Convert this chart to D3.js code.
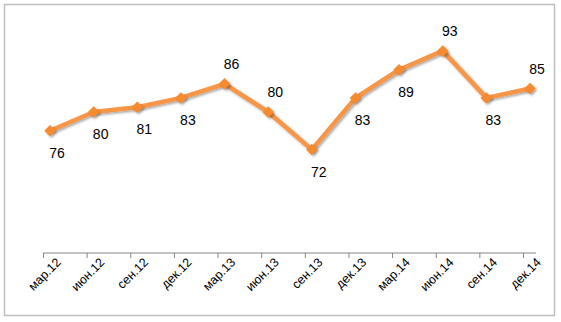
<!DOCTYPE html>
<html><head><meta charset="utf-8">
<script src="https://cdn.jsdelivr.net/npm/d3@7/dist/d3.min.js"></script>
<style>
body{margin:0;background:#fff;}
svg{display:block;font-family:"Liberation Sans",Arial,sans-serif;}
</style></head>
<body><svg id="c" width="561" height="322"></svg>
<script>
const categories = ["мар.12","июн.12","сен.12","дек.12","мар.13","июн.13","сен.13","дек.13","мар.14","июн.14","сен.14","дек.14"];
const values = [76, 80, 81, 83, 86, 80, 72, 83, 89, 93, 83, 85];
const labelPlacement = ["below","below","below","below","above","above","below","below","below","above","below","above"];
const yDomain = [50, 100];

const svg = d3.select("#c");
svg.append("rect").attr("x",4.5).attr("y",4.5).attr("width",550).attr("height",311)
  .attr("fill","#fff").attr("stroke","#bfbfbf").attr("stroke-width",1.5);

const defs = svg.append("defs");
const f = defs.append("filter").attr("id","sh").attr("x","-50%").attr("y","-50%").attr("width","200%").attr("height","200%");
f.append("feDropShadow").attr("dx",1.5).attr("dy",1.5).attr("stdDeviation",1.2).attr("flood-color","#000").attr("flood-opacity",0.35);

const x = d3.scalePoint().domain(categories).range([50, 530]);
const y = d3.scaleLinear().domain(yDomain).range([253, 18]);
const tickOff = -7;

// axis
const ax = svg.append("g").attr("transform","translate(0,253)")
  .call(d3.axisBottom(x).tickSize(5).tickSizeOuter(0));
ax.select(".domain").remove();
ax.append("line").attr("x1",43).attr("x2",536).attr("stroke","#868686").attr("stroke-width",1);
ax.selectAll(".tick line").attr("stroke","#868686").attr("transform",`translate(${tickOff},0)`);
ax.selectAll(".tick text")
  .attr("font-size",12.5).attr("fill","#000")
  .attr("text-anchor","end")
  .attr("transform","translate(8,7) rotate(-45)")
  .attr("dy","0.35em").attr("y",0).attr("x",0);

const line = d3.line().x((d,i)=>x(categories[i])).y(d=>y(d));
svg.append("path").datum(values).attr("d",line).attr("fill","none")
  .attr("stroke","#f79646").attr("stroke-width",4.5).attr("stroke-linejoin","round")
  .attr("filter","url(#sh)");

svg.selectAll(".m").data(values).enter().append("path")
  .attr("d", d3.symbol().type(d3.symbolDiamond2).size(85))
  .attr("transform",(d,i)=>`translate(${x(categories[i])},${y(d)})`)
  .attr("fill","#f58a2f").attr("filter","url(#sh)");

svg.selectAll(".lbl").data(values).enter().append("text")
  .attr("x",(d,i)=>x(categories[i]) + 7)
  .attr("y",(d,i)=> y(d) + (labelPlacement[i]==="below" ? 27 : -15))
  .attr("text-anchor","middle").attr("font-size",14).attr("fill","#000")
  .text(d=>d);
</script></body></html>
